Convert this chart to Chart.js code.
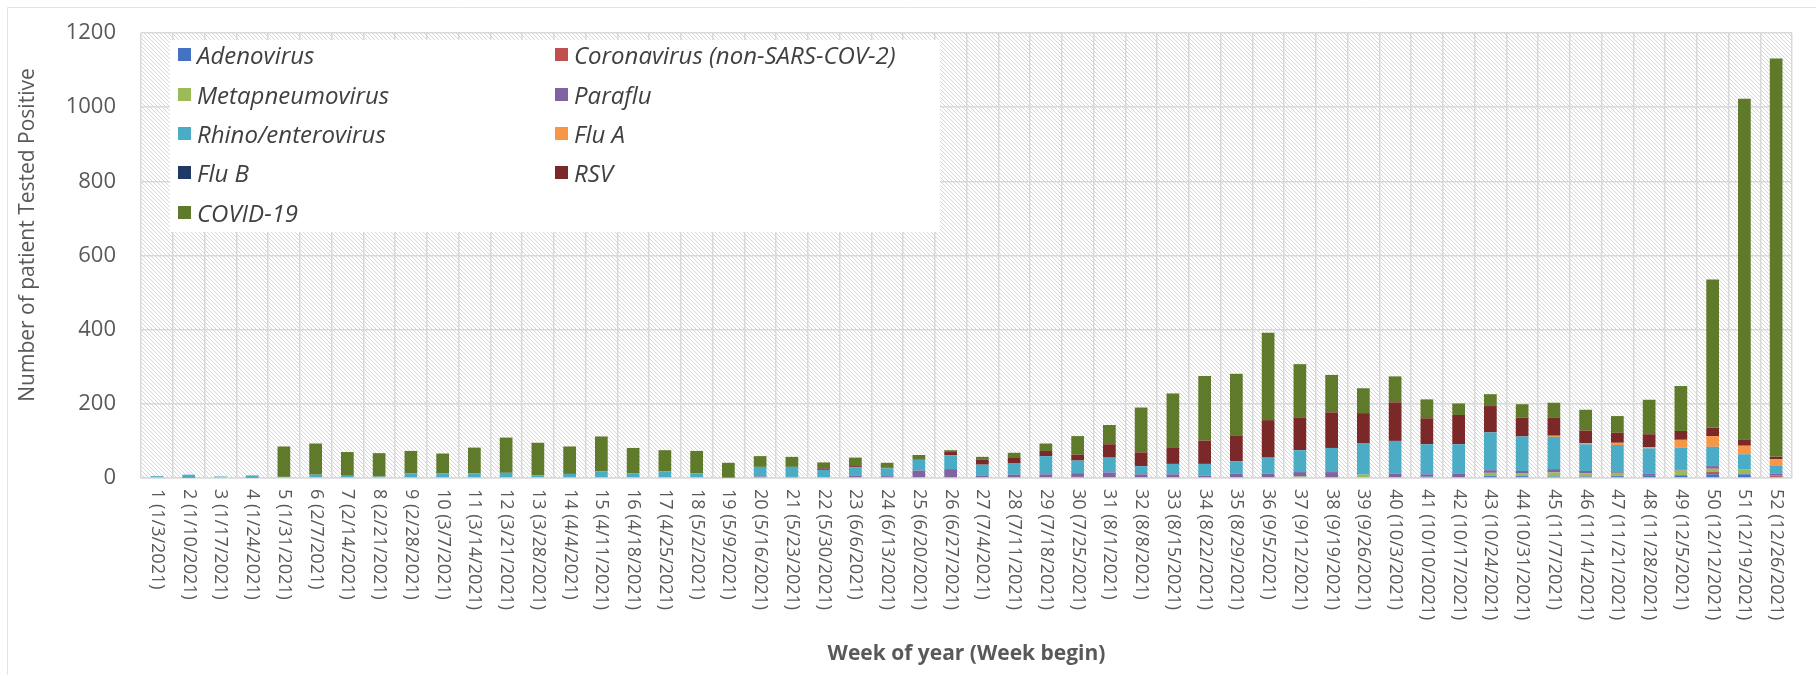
<!DOCTYPE html>
<html lang="en">
<head>
<meta charset="UTF-8">
<title>Patients tested positive by week, 2021</title>
<script src="https://cdn.jsdelivr.net/npm/chart.js"></script>
<style>
    * { margin: 0; padding: 0; box-sizing: border-box; }
    body { background: #fff; width: 1816px; height: 676px; overflow: hidden; font-family: 'Open Sans', sans-serif; }
    .wrap { position: relative; width: 1816px; height: 676px; }
    .legend {
        position: absolute; left: 170px; top: 40px; width: 770px; height: 192px;
        background: #fff;
    }
    .legend .rows {
        position: relative; top: -5px; padding-left: 8px;
        display: grid; grid-template-columns: 377px auto; grid-auto-rows: 39.4px;
    }
    .legend .item {
        display: flex; align-items: center; font-style: italic; font-size: 24px;
        color: #404040; white-space: nowrap;
    }
    .legend .item span.box { width: 13px; height: 13px; margin-right: 6px; flex: none; }
</style>
</head>
<body>
<div class="wrap">
    <canvas id="chart" width="1816" height="676"></canvas>
    <div class="legend"><div class="rows" id="legend"></div></div>
</div>
<script>
const weekLabels = [
    '1 (1/3/2021)', '2 (1/10/2021)', '3 (1/17/2021)', '4 (1/24/2021)', '5 (1/31/2021)',
    '6 (2/7/2021)', '7 (2/14/2021)', '8 (2/21/2021)', '9 (2/28/2021)', '10 (3/7/2021)',
    '11 (3/14/2021)', '12 (3/21/2021)', '13 (3/28/2021)', '14 (4/4/2021)', '15 (4/11/2021)',
    '16 (4/18/2021)', '17 (4/25/2021)', '18 (5/2/2021)', '19 (5/9/2021)', '20 (5/16/2021)',
    '21 (5/23/2021)', '22 (5/30/2021)', '23 (6/6/2021)', '24 (6/13/2021)', '25 (6/20/2021)',
    '26 (6/27/2021)', '27 (7/4/2021)', '28 (7/11/2021)', '29 (7/18/2021)', '30 (7/25/2021)',
    '31 (8/1/2021)', '32 (8/8/2021)', '33 (8/15/2021)', '34 (8/22/2021)', '35 (8/29/2021)',
    '36 (9/5/2021)', '37 (9/12/2021)', '38 (9/19/2021)', '39 (9/26/2021)', '40 (10/3/2021)',
    '41 (10/10/2021)', '42 (10/17/2021)', '43 (10/24/2021)', '44 (10/31/2021)', '45 (11/7/2021)',
    '46 (11/14/2021)', '47 (11/21/2021)', '48 (11/28/2021)', '49 (12/5/2021)', '50 (12/12/2021)',
    '51 (12/19/2021)', '52 (12/26/2021)'
];

const yTicks = [0, 200, 400, 600, 800, 1000, 1200];

const adenovirus = [0,1,0,1,0, 0,0,0,0,0, 0,0,0,0,0, 0,0,0,0,0, 0,0,0,0,0, 0,0,0,0,0, 0,0,0,0,0, 0,0,0,0,0, 4,0,5,5,4, 4,5,6,6,10, 10,3];
const coronavirus = [0,0,0,0,0, 0,0,0,0,0, 0,2,0,0,0, 0,0,0,0,0, 0,0,0,0,0, 0,0,0,0,3, 0,0,0,0,0, 0,0,0,0,0, 0,0,0,0,0, 0,0,0,2,6, 0,4];
const metapneumovirus = [0,0,0,0,0, 0,0,0,0,0, 0,0,0,0,0, 0,0,0,0,0, 0,0,0,0,0, 0,0,0,0,0, 0,0,0,0,0, 0,4,0,9,0, 0,0,9,7,11, 9,9,0,12,9, 14,0];
const paraflu = [0,0,0,0,0, 0,0,0,0,0, 0,0,0,0,2, 0,0,0,0,4, 3,2,7,5,20, 24,7,9,10,10, 15,10,10,6,12, 12,12,16,0,12, 6,11,7,7,9, 6,4,6,2,7, 0,5];
const rhino = [5,8,4,6,3, 9,6,4,13,13, 13,12,7,11,16, 13,18,13,1,26, 27,20,22,21,29, 37,29,30,49,34, 40,22,28,32,33, 43,59,65,84,88, 81,80,102,93,87, 72,71,68,60,52, 40,22];
const fluA = [0,0,0,0,0, 0,0,0,0,0, 0,0,0,0,0, 0,0,0,0,0, 0,0,0,0,0, 0,0,0,0,0, 0,0,0,0,0, 0,0,0,0,0, 0,0,0,0,3, 3,6,3,21,29, 23,17];
const fluB = [0,0,0,0,0, 0,0,0,0,0, 0,0,0,0,0, 0,0,0,0,0, 0,0,0,0,0, 0,0,0,0,0, 0,0,0,0,0, 0,0,0,0,0, 0,0,0,0,0, 0,0,0,0,0, 0,0];
const rsv = [0,0,0,0,0, 0,0,0,0,0, 0,0,0,0,0, 0,0,0,0,0, 0,4,3,2,0, 9,13,15,14,16, 36,37,43,63,70, 101,87,96,82,104, 70,79,71,51,48, 34,27,35,24,23, 17,6];
const covid = [0,0,0,0,82, 84,64,63,60,53, 69,95,88,74,94, 68,57,60,40,29, 27,16,23,13,13, 5,8,14,20,50, 52,121,147,174,166, 236,145,101,67,70, 51,31,32,36,41, 56,45,93,121,399, 919,1074];

const seriesNames = ['Adenovirus', 'Coronavirus (non-SARS-COV-2)', 'Metapneumovirus', 'Paraflu',
    'Rhino/enterovirus', 'Flu A', 'Flu B', 'RSV', 'COVID-19'];
const seriesData = [adenovirus, coronavirus, metapneumovirus, paraflu, rhino, fluA, fluB, rsv, covid];
const seriesColors = ['#4472C4', '#C0504D', '#9BBB59', '#8064A2', '#4BACC6', '#F79646', '#1F3864', '#7A2828', '#5F7A2A'];

const textGrey = '#595959';
const gridGrey = '#d9d9d9';

// legend, two columns, sitting inside the plot like the original
const legendEl = document.getElementById('legend');
seriesNames.forEach((name, i) => {
    const item = document.createElement('div');
    item.className = 'item';
    item.innerHTML = '<span class="box" style="background:' + seriesColors[i] + '"></span>' + name;
    legendEl.appendChild(item);
});

// white plot area with fine diagonal hatching
const hatchPlugin = {
    id: 'hatch',
    beforeDraw(chart) {
        const { ctx, chartArea: a } = chart;
        ctx.save();
        ctx.fillStyle = '#fff';
        ctx.fillRect(a.left, a.top, a.width, a.height);
        ctx.beginPath();
        ctx.rect(a.left, a.top, a.width, a.height);
        ctx.clip();
        ctx.strokeStyle = '#d6d6d6';
        ctx.lineWidth = 1;
        ctx.beginPath();
        for (let k = -a.height; k < a.width; k += 4) {
            ctx.moveTo(a.left + k, a.top);
            ctx.lineTo(a.left + k + a.height, a.top + a.height);
        }
        ctx.stroke();
        ctx.restore();
    }
};

// vertical week labels (top to bottom), y title and the frame
const textPlugin = {
    id: 'texts',
    afterDraw(chart) {
        const { ctx, chartArea: a } = chart;
        const x = chart.scales.x;
        ctx.save();
        ctx.fillStyle = textGrey;
        ctx.font = '18px "Open Sans"';
        ctx.textAlign = 'left';
        ctx.textBaseline = 'middle';
        weekLabels.forEach((lab, i) => {
            ctx.save();
            ctx.translate(x.getPixelForValue(i), a.bottom + 11);
            ctx.rotate(Math.PI / 2);
            ctx.fillText(lab, 0, 0);
            ctx.restore();
        });

        ctx.font = '21px "Open Sans"';
        ctx.textAlign = 'center';
        ctx.translate(28, 235);
        ctx.rotate(-Math.PI / 2);
        ctx.fillText('Number of patient Tested Positive', 0, 0);
        ctx.restore();

        ctx.save();
        ctx.strokeStyle = '#e3e3e3';
        ctx.lineWidth = 1;
        ctx.beginPath();
        ctx.moveTo(7.5, 675);
        ctx.lineTo(7.5, 7.5);
        ctx.lineTo(1816, 7.5);
        ctx.stroke();
        ctx.restore();
    }
};

Chart.defaults.font.family = "'Open Sans', sans-serif";

new Chart(document.getElementById('chart'), {
    type: 'bar',
    data: {
        labels: weekLabels,
        datasets: seriesNames.map((name, i) => ({
            label: name,
            data: seriesData[i],
            backgroundColor: seriesColors[i],
            borderWidth: 0,
            barPercentage: 0.4,
            categoryPercentage: 1.0
        }))
    },
    options: {
        responsive: false,
        animation: false,
        layout: { padding: { left: 0, top: 33, right: 24, bottom: 0 } },
        plugins: {
            legend: { display: false },
            tooltip: { enabled: false }
        },
        scales: {
            x: {
                stacked: true,
                grid: { color: gridGrey, lineWidth: 1.5, offset: true, drawTicks: false },
                border: { color: gridGrey, width: 1.5 },
                ticks: { display: false },
                title: {
                    display: true,
                    text: 'Week of year (Week begin)',
                    color: textGrey,
                    font: { size: 21, weight: 'bold' },
                    padding: { top: 0, bottom: 9 }
                },
                afterFit(s) { s.height = 198; s.paddingLeft = 0; s.paddingRight = 0; }
            },
            y: {
                stacked: true,
                min: yTicks[0],
                max: yTicks[yTicks.length - 1],
                afterBuildTicks(s) { s.ticks = yTicks.map(v => ({ value: v })); },
                grid: { color: gridGrey, lineWidth: 1.5, drawTicks: false },
                border: { display: false },
                ticks: {
                    color: textGrey,
                    font: { size: 22 },
                    padding: 25,
                    callback: v => String(v)
                },
                afterFit(s) { s.width = 141; s.paddingTop = 0; s.paddingBottom = 0; }
            }
        }
    },
    plugins: [hatchPlugin, textPlugin]
});
</script>
</body>
</html>
